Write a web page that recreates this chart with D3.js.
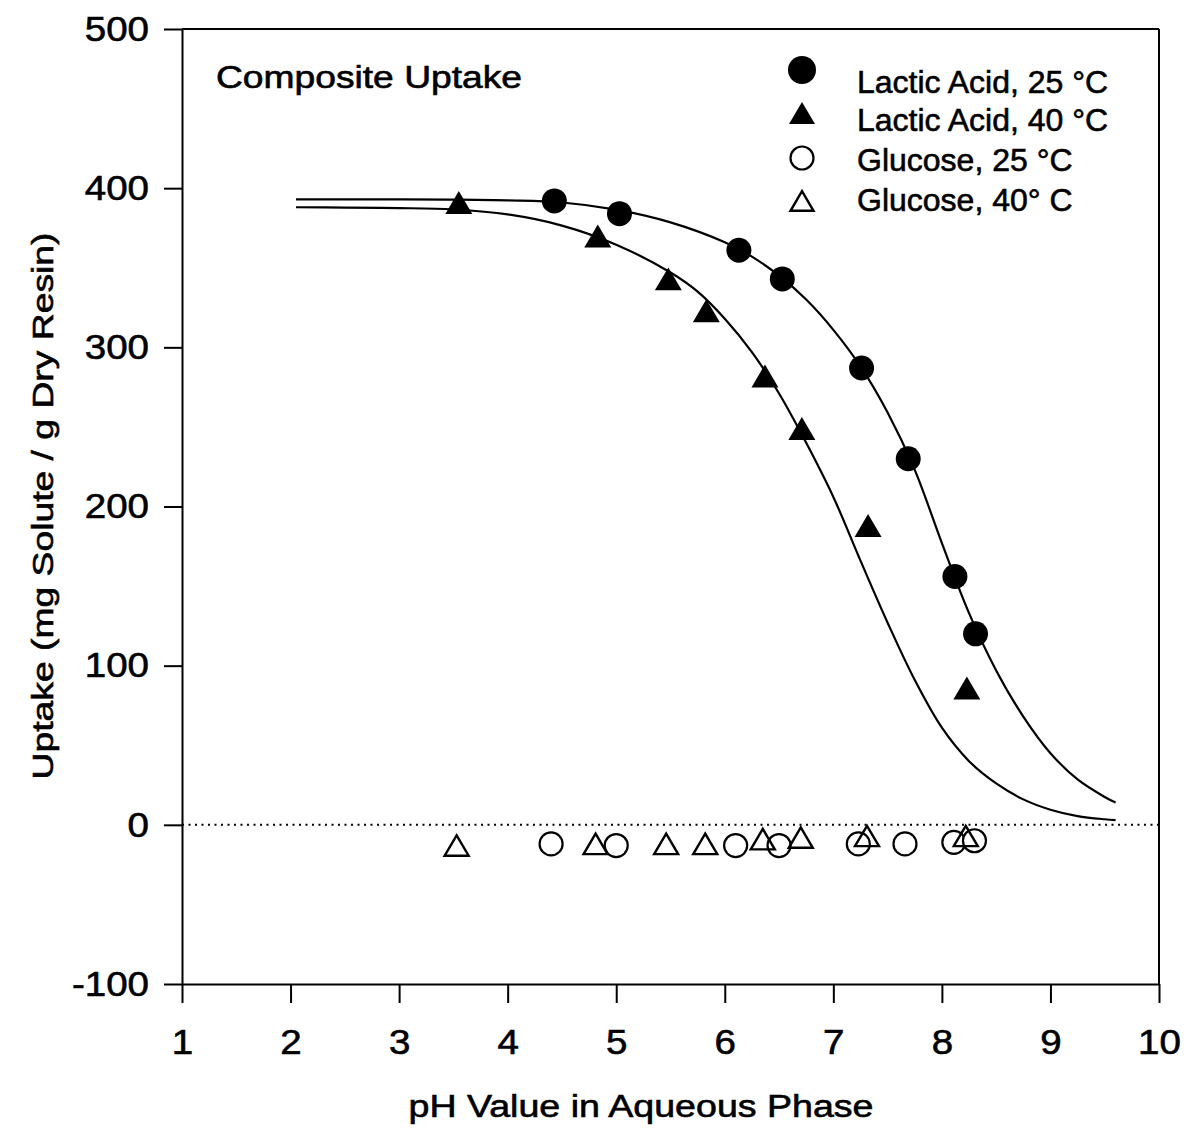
<!DOCTYPE html>
<html>
<head>
<meta charset="utf-8">
<script src="https://cdn.jsdelivr.net/npm/d3@7"></script>
<style>
  html, body { margin: 0; padding: 0; background: #fff; }
  svg { display: block; font-family: "Liberation Sans", Arial, Helvetica, sans-serif; }
  svg text { stroke: #000; stroke-width: 0.6px; }
  .y-axis .tick text { transform-box: fill-box; transform-origin: right center; transform: scaleX(1.1); }
  .x-axis .tick text { transform-box: fill-box; transform-origin: center; transform: scaleX(1.1); }
</style>
</head>
<body>
<svg id="chart" width="1184" height="1136"></svg>
<script>
// Measured uptake of lactic acid and glucose on the composite resin vs. aqueous pH
const lactic25_pH     = [4.43, 5.03, 6.13, 6.53, 7.26, 7.69, 8.12, 8.31];
const lactic25_uptake = [392, 384, 361, 343, 287, 230, 156, 120];

const lactic40_pH     = [3.55, 4.83, 5.48, 5.83, 6.37, 6.71, 7.32, 8.23];
const lactic40_uptake = [391, 370, 343, 323, 282, 249, 188, 86];

const glucose25_pH     = [4.40, 5.00, 6.10, 6.50, 7.23, 7.66, 8.11, 8.30];
const glucose25_uptake = [-12, -13, -13, -13, -12, -12, -11, -10];

const glucose40_pH     = [3.53, 4.81, 5.46, 5.82, 6.35, 6.70, 7.31, 8.22];
const glucose40_uptake = [-13, -12, -12, -12, -9, -8, -7, -7];

// Fitted sigmoid curves, sampled along their traces
const fit25_pH     = [2.05, 2.5, 3.0, 3.5, 4.0, 4.5, 5.0, 5.5, 6.0, 6.25, 6.5, 6.75, 7.0, 7.25, 7.5, 7.75, 8.0, 8.25, 8.5, 8.75, 9.0, 9.25, 9.5, 9.6];
const fit25_uptake = [393, 393, 393, 392.8, 392.3, 391, 386.5, 378.5, 366, 357, 345, 330, 311, 288, 259, 223, 177, 133, 97, 68, 45, 28.5, 17.5, 14];

const fit40_pH     = [2.05, 2.5, 3.0, 3.5, 4.0, 4.5, 5.0, 5.5, 5.75, 6.0, 6.25, 6.5, 6.75, 7.0, 7.25, 7.5, 7.75, 8.0, 8.25, 8.5, 8.75, 9.0, 9.25, 9.5, 9.6];
const fit40_uptake = [388, 387.8, 387.5, 386.6, 383.5, 376.5, 364.5, 347, 335, 318, 297, 271, 240, 206, 166, 127, 91, 61, 40, 26, 16, 9.5, 5.5, 3.5, 3];

const xTicks = [1, 2, 3, 4, 5, 6, 7, 8, 9, 10];
const yTicks = [-100, 0, 100, 200, 300, 400, 500];

const legendLabels = ["Lactic Acid, 25 \u00B0C", "Lactic Acid, 40 \u00B0C", "Glucose, 25 \u00B0C", "Glucose, 40\u00B0 C"];

const svg = d3.select("#chart");

const x = d3.scaleLinear().domain([1, 10]).range([182, 1159]);
const y = d3.scaleLinear().domain([-100, 500]).range([984, 29]);

// Axes
const yAxis = svg.append("g")
  .attr("class", "y-axis")
  .attr("transform", `translate(${x(1)},0)`)
  .call(d3.axisLeft(y).tickValues(yTicks).tickSize(18).tickSizeOuter(0).tickPadding(15)
    .tickFormat(d => d < 0 ? "-" + Math.abs(d) : d));

const xAxis = svg.append("g")
  .attr("class", "x-axis")
  .attr("transform", `translate(0,${y(-100)})`)
  .call(d3.axisBottom(x).tickValues(xTicks).tickSize(19).tickSizeOuter(0).tickPadding(26));

[yAxis, xAxis].forEach(g => {
  g.selectAll("path.domain").attr("stroke", "#000").attr("stroke-width", 2);
  g.selectAll(".tick line").attr("stroke", "#000").attr("stroke-width", 2);
  g.selectAll(".tick text").attr("fill", "#000").style("font-size", "35px")
    .style("font-family", '"Liberation Sans", Arial, sans-serif');
});

// Frame: top and right edges
svg.append("line")
  .attr("x1", x(1)).attr("x2", x(10)).attr("y1", y(500)).attr("y2", y(500))
  .attr("stroke", "#000").attr("stroke-width", 2);
svg.append("line")
  .attr("x1", x(10)).attr("x2", x(10)).attr("y1", y(500)).attr("y2", y(-100))
  .attr("stroke", "#000").attr("stroke-width", 2);

// Zero reference line
svg.append("line")
  .attr("x1", x(1)).attr("x2", x(10)).attr("y1", y(0)).attr("y2", y(0))
  .attr("stroke", "#000").attr("stroke-width", 2).attr("stroke-dasharray", "2,4.5");

// Fitted curves
const line = d3.line().x(d => x(d[0])).y(d => y(d[1])).curve(d3.curveCatmullRom.alpha(0.5));
[[fit25_pH, fit25_uptake], [fit40_pH, fit40_uptake]].forEach(([px, py]) => {
  svg.append("path")
    .datum(px.map((v, i) => [v, py[i]]))
    .attr("d", line)
    .attr("fill", "none")
    .attr("stroke", "#000")
    .attr("stroke-width", 2.2);
});

// Marker shapes
function trianglePath(s) {
  // upright triangle of width s centred on its bounding box
  const h = s * 0.85;
  return `M0,${-h / 2}L${s / 2},${h / 2}L${-s / 2},${h / 2}Z`;
}

function drawMarker(g, kind, cx, cy, big) {
  if (kind === "dot" || kind === "ring") {
    const r = kind === "dot" ? (big ? 14 : 12.5) : 11.5;
    g.append("circle").attr("cx", cx).attr("cy", cy).attr("r", r)
      .attr("fill", kind === "dot" ? "#000" : "#fff")
      .attr("stroke", "#000").attr("stroke-width", kind === "dot" ? 0 : 2.2);
  } else {
    const filled = kind === "tri";
    const s = filled ? (big ? 26 : 27) : (big ? 23 : 24);
    g.append("path").attr("transform", `translate(${cx},${cy})`)
      .attr("d", trianglePath(s))
      .attr("fill", filled ? "#000" : "none")
      .attr("stroke", "#000").attr("stroke-width", filled ? 0 : 2.4)
      .attr("stroke-linejoin", "miter");
  }
}

const series = [
  { kind: "ring", px: glucose25_pH, py: glucose25_uptake },
  { kind: "tri-open", px: glucose40_pH, py: glucose40_uptake },
  { kind: "dot", px: lactic25_pH, py: lactic25_uptake },
  { kind: "tri", px: lactic40_pH, py: lactic40_uptake }
];

series.forEach(s => {
  const g = svg.append("g");
  s.px.forEach((v, i) => drawMarker(g, s.kind, x(v), y(s.py[i]), false));
});

// Legend
const legendKinds = ["dot", "tri", "ring", "tri-open"];
const legendY = [70, 113, 158, 201];
const legendBase = [93, 131, 171, 211];
const lg = svg.append("g");
legendKinds.forEach((k, i) => {
  drawMarker(lg, k, 802, legendY[i], true);
  lg.append("text")
    .attr("x", 857).attr("y", legendBase[i])
    .style("font-size", "32px").attr("fill", "#000")
    .text(legendLabels[i]);
});

// Panel label
svg.append("text")
  .attr("x", 216).attr("y", 88)
  .style("font-size", "31px").attr("fill", "#000")
  .attr("textLength", 306).attr("lengthAdjust", "spacingAndGlyphs")
  .text("Composite Uptake");

// Axis titles
svg.append("text")
  .attr("x", 641).attr("y", 1117)
  .attr("text-anchor", "middle")
  .style("font-size", "31px").attr("fill", "#000")
  .attr("textLength", 465).attr("lengthAdjust", "spacingAndGlyphs")
  .text("pH Value in Aqueous Phase");

svg.append("text")
  .attr("transform", "translate(53,506) rotate(-90)")
  .attr("text-anchor", "middle")
  .style("font-size", "30px").attr("fill", "#000")
  .attr("textLength", 547).attr("lengthAdjust", "spacingAndGlyphs")
  .text("Uptake (mg Solute / g Dry Resin)");
</script>
</body>
</html>
